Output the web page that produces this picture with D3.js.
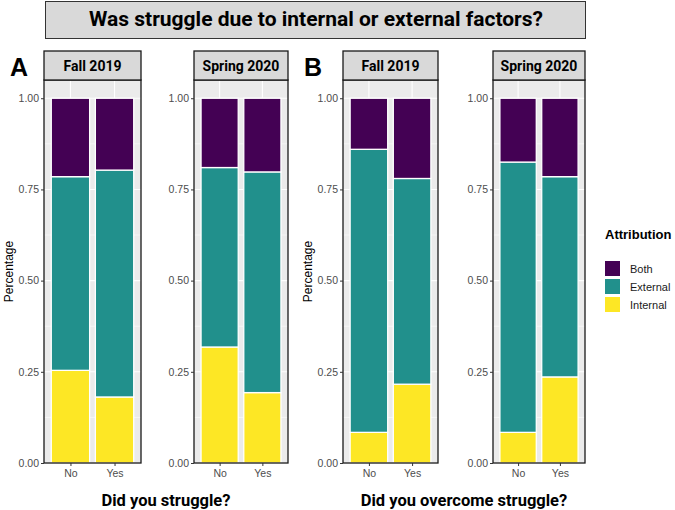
<!DOCTYPE html>
<html>
<head>
<meta charset="utf-8">
<script src="https://cdn.jsdelivr.net/npm/d3@7.9.0/dist/d3.min.js"></script>
<style>
  html, body { margin: 0; padding: 0; background: #fff; }
  svg { display: block; }
</style>
</head>
<body>
<svg id="chart" width="675" height="510"></svg>
<script>
// terms and answers (x categories) for each facet
const terms = ['Fall 2019', 'Spring 2020'];
const answers = ['No', 'Yes'];
const attributions = ['Internal', 'External', 'Both'];
const legendOrder = ['Both', 'External', 'Internal'];
const yTicks = [0, 0.25, 0.5, 0.75, 1];

// order: Fall No, Fall Yes, Spring No, Spring Yes
const struggleInternal = [0.254, 0.181, 0.318, 0.193];
const struggleExternal = [0.531, 0.622, 0.492, 0.605];
const struggleBoth = [0.215, 0.197, 0.19, 0.202];

const overcomeInternal = [0.084, 0.216, 0.084, 0.236];
const overcomeExternal = [0.776, 0.564, 0.741, 0.549];
const overcomeBoth = [0.14, 0.22, 0.175, 0.215];

const colors = d3.scaleOrdinal()
  .domain(['Both', 'External', 'Internal'])
  .range(['#440154', '#21908C', '#FDE725']);

const svg = d3.select('#chart');

// title box
svg.append('rect')
  .attr('x', 45.5).attr('y', 1.5).attr('width', 540).attr('height', 37)
  .attr('fill', '#D9D9D9').attr('stroke', '#333').attr('stroke-width', 1);
svg.append('text')
  .attr('x', 316).attr('y', 26)
  .attr('text-anchor', 'middle')
  .style('font', 'bold 21px Roboto')
  .text('Was struggle due to internal or external factors?');

function buildRows(internal, external, both) {
  const rows = [];
  terms.forEach((term, ti) => {
    answers.forEach((ans, ai) => {
      const i = ti * 2 + ai;
      rows.push({ term, answer: ans, Internal: internal[i], External: external[i], Both: both[i] });
    });
  });
  return rows;
}

const sections = [
  { tag: 'A', xTitle: 'Did you struggle?', rows: buildRows(struggleInternal, struggleExternal, struggleBoth),
    panels: [[44, 141], [194, 288]], tagX: 10, yLabelX: 13 },
  { tag: 'B', xTitle: 'Did you overcome struggle?', rows: buildRows(overcomeInternal, overcomeExternal, overcomeBoth),
    panels: [[343, 438], [493, 585]], tagX: 304, yLabelX: 312 }
];

const panelTop = 80;
const panelBottom = 463;
const stripTop = 51;

const y = d3.scaleLinear().domain([0, 1.05]).range([panelBottom, panelTop]);
const stack = d3.stack().keys(attributions);

sections.forEach((sec) => {
  // section tag
  svg.append('text')
    .attr('x', sec.tagX).attr('y', 76)
    .style('font', 'bold 25px "Liberation Sans", Arial, sans-serif')
    .text(sec.tag);

  terms.forEach((term, ti) => {
    const [x0, x1] = sec.panels[ti];
    const x = d3.scaleLinear().domain([0.4, 2.6]).range([x0, x1]);
    const unit = x(2) - x(1);
    const rows = sec.rows.filter((d) => d.term === term);
    const g = svg.append('g');

    // panel background and grid
    g.append('rect')
      .attr('x', x0).attr('y', panelTop).attr('width', x1 - x0).attr('height', panelBottom - panelTop)
      .attr('fill', '#EBEBEB');

    const minor = d3.range(0.125, 1.05, 0.25);
    g.selectAll('.minor')
      .data(minor)
      .enter()
      .append('line')
      .attr('x1', x0).attr('x2', x1)
      .attr('y1', (d) => y(d)).attr('y2', (d) => y(d))
      .attr('stroke', '#fff').attr('stroke-width', 0.55);

    g.selectAll('.major')
      .data(yTicks)
      .enter()
      .append('line')
      .attr('x1', x0).attr('x2', x1)
      .attr('y1', (d) => y(d)).attr('y2', (d) => y(d))
      .attr('stroke', '#fff').attr('stroke-width', 1.1);

    g.selectAll('.vmajor')
      .data(answers)
      .enter()
      .append('line')
      .attr('x1', (d, i) => x(i + 1)).attr('x2', (d, i) => x(i + 1))
      .attr('y1', panelTop).attr('y2', panelBottom)
      .attr('stroke', '#fff').attr('stroke-width', 1.1);

    // stacked bars
    const series = stack(rows);
    const barW = unit * 0.87;
    g.selectAll('.layer')
      .data(series)
      .enter()
      .append('g')
      .attr('fill', (s) => colors(s.key))
      .selectAll('rect')
      .data((s) => s)
      .enter()
      .append('rect')
      .attr('x', (d, i) => x(i + 1) - barW / 2)
      .attr('width', barW)
      .attr('y', (d) => y(d[1]))
      .attr('height', (d) => y(d[0]) - y(d[1]))
      .attr('stroke', '#fff')
      .attr('stroke-width', 1.3);

    // panel border
    g.append('rect')
      .attr('x', x0).attr('y', panelTop).attr('width', x1 - x0).attr('height', panelBottom - panelTop)
      .attr('fill', 'none').attr('stroke', '#1a1a1a').attr('stroke-width', 1.3);

    // strip
    g.append('rect')
      .attr('x', x0).attr('y', stripTop).attr('width', x1 - x0).attr('height', panelTop - stripTop)
      .attr('fill', '#D9D9D9').attr('stroke', '#1a1a1a').attr('stroke-width', 1.3);
    g.append('text')
      .attr('x', (x0 + x1) / 2).attr('y', 70.5)
      .attr('text-anchor', 'middle')
      .style('font', 'bold 14px Roboto')
      .text(term);

    // y axis
    const yAxis = g.append('g')
      .attr('transform', `translate(${x0},0)`)
      .call(d3.axisLeft(y).tickValues(yTicks).tickFormat(d3.format('.2f')).tickSize(3).tickPadding(2));
    yAxis.select('.domain').remove();
    yAxis.selectAll('line').attr('stroke', '#333');
    yAxis.selectAll('text')
      .attr('fill', '#4D4D4D')
      .style('font', '10.5px "Liberation Sans", Arial, sans-serif');

    // x axis
    const xAxis = g.append('g')
      .attr('transform', `translate(0,${panelBottom})`)
      .call(d3.axisBottom(x).tickValues([1, 2]).tickFormat((d) => answers[d - 1]).tickSize(3).tickPadding(4));
    xAxis.select('.domain').remove();
    xAxis.selectAll('line').attr('stroke', '#333');
    xAxis.selectAll('text')
      .attr('fill', '#4D4D4D')
      .style('font', '10.5px "Liberation Sans", Arial, sans-serif');
  });

  // axis titles
  const [left] = sec.panels[0];
  const right = sec.panels[1][1];
  svg.append('text')
    .attr('x', (left + right) / 2).attr('y', 506)
    .attr('text-anchor', 'middle')
    .style('font', 'bold 16.5px Roboto')
    .text(sec.xTitle);

  svg.append('text')
    .attr('transform', `translate(${sec.yLabelX},${(panelTop + panelBottom) / 2}) rotate(-90)`)
    .attr('text-anchor', 'middle')
    .style('font', '12px "Liberation Sans", Arial, sans-serif')
    .text('Percentage');
});

// legend
const legend = svg.append('g').attr('transform', 'translate(605,0)');
legend.append('text')
  .attr('x', 0).attr('y', 239)
  .style('font', 'bold 13px "Liberation Sans", Arial, sans-serif')
  .text('Attribution');

const items = legend.selectAll('.item')
  .data(legendOrder)
  .enter()
  .append('g')
  .attr('transform', (d, i) => `translate(0,${261 + i * 18})`);
items.append('rect')
  .attr('width', 15).attr('height', 15)
  .attr('fill', (d) => colors(d));
items.append('text')
  .attr('x', 25).attr('y', 11.5)
  .style('font', '11px "Liberation Sans", Arial, sans-serif')
  .attr('fill', '#1a1a1a')
  .text((d) => d);
</script>
</body>
</html>
